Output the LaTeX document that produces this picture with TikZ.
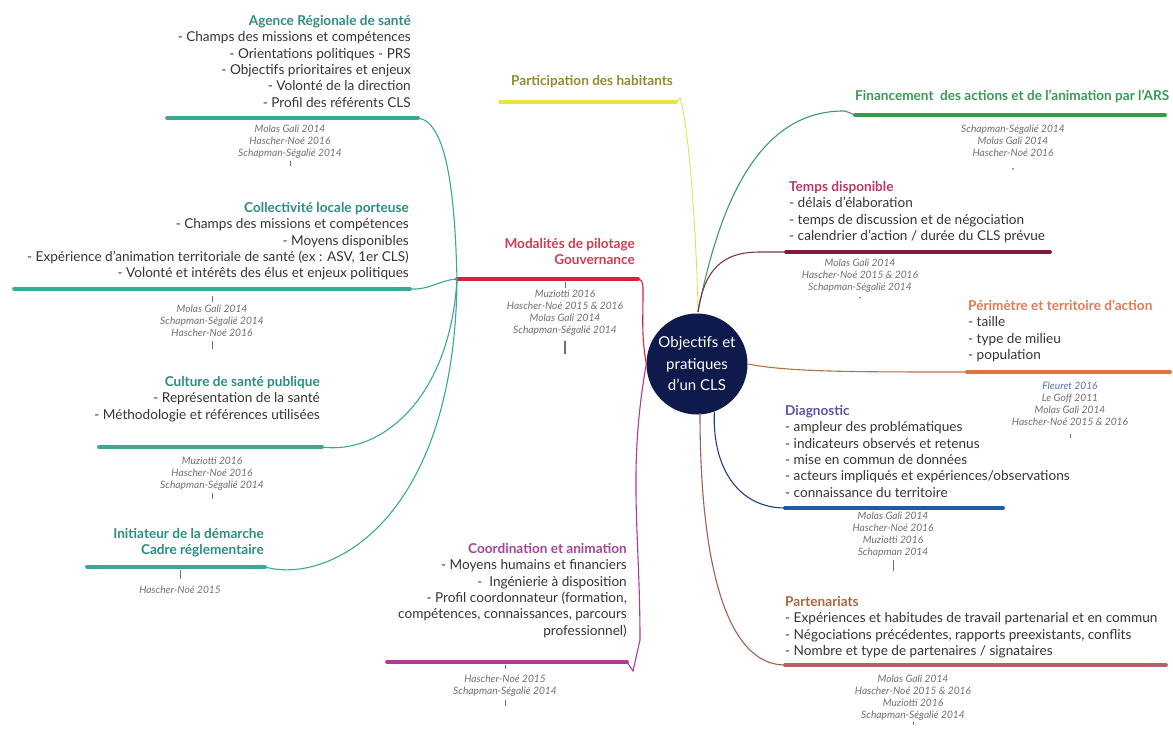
\documentclass[tikz,border=0pt]{standalone}
\usepackage{fontspec}
\setmainfont{Lato}
\definecolor{navy}{HTML}{0E1A4B}
\definecolor{bodytxt}{HTML}{353535}
\definecolor{citegray}{HTML}{707070}
\definecolor{tealB}{HTML}{3BA896}
\definecolor{tealT}{HTML}{2E8C80}
\definecolor{redB}{HTML}{D9203A}
\definecolor{redT}{HTML}{D43A52}
\definecolor{purB}{HTML}{B03A98}
\definecolor{purT}{HTML}{A5449C}
\definecolor{yelB}{HTML}{E9E53E}
\definecolor{yelT}{HTML}{8E8C2E}
\definecolor{yelL}{HTML}{E3DB4A}
\definecolor{grnB}{HTML}{2F9E4A}
\definecolor{grnT}{HTML}{3A9A55}
\definecolor{grnL}{HTML}{3B9A70}
\definecolor{tmpB}{HTML}{7E1A3E}
\definecolor{tmpT}{HTML}{B83A64}
\definecolor{tmpL}{HTML}{7A3A3A}
\definecolor{orB}{HTML}{E2733E}
\definecolor{orT}{HTML}{E07B55}
\definecolor{orL}{HTML}{B87040}
\definecolor{diaB}{HTML}{1F5CA8}
\definecolor{diaT}{HTML}{5A52A8}
\definecolor{diaL}{HTML}{1F3F80}
\definecolor{parB}{HTML}{B56262}
\definecolor{parT}{HTML}{A8683C}
\definecolor{parL}{HTML}{A06050}
\definecolor{fleur}{HTML}{5A70B0}
\newcommand{\brtitle}[2]{{\bfseries\color{#1}#2}}
\begin{document}
\begin{tikzpicture}[x=1pt,y=-1pt,
  body/.style={font=\fontsize{13.6}{16.3}\selectfont, text=bodytxt, inner sep=0pt},
  cite/.style={font=\fontsize{10.2}{12}\selectfont\itshape, text=citegray, align=center, inner sep=0pt},
  bar/.style={line width=3.8pt, line cap=round},
  link/.style={line width=1.1pt},
  tickmark/.style={draw=citegray, line width=0.9pt}]
\fill[white] (0,0) rectangle (1173,733);
\useasboundingbox (0,0) rectangle (1173,733);

% ---------- centre ----------
\node[circle, fill=navy, minimum size=101pt, inner sep=0pt, text=white,
  font=\fontsize{15}{21.5}\selectfont, align=center] (c) at (697,364)
  {Objectifs et\\pratiques\\d'un CLS};
\coordinate (ctop) at (698,312);
\coordinate (cbot) at (700,413);

% ---------- Participation ----------
\coordinate (parL0) at (500,102);
\coordinate (parR0) at (676,102);
\node[body, anchor=north, align=center] (parti) at (592,74)
  {\strut\brtitle{yelT}{Participation des habitants}};
\draw[bar, yelB] (parL0) -- (parR0);
\draw[link, yelL, line width=0.8pt] (parR0) -- (680,98) .. controls (690,130) and (697,250) .. (ctop);

% ---------- Modalites ----------
\coordinate (modL) at (457,279);
\coordinate (modR) at (638,279);
\node[body, anchor=north east, align=right] (mod) at (635,237)
  {\strut\brtitle{redT}{Modalités de pilotage}\\\brtitle{redT}{Gouvernance}};
\draw[bar, redB] (modL) -- (modR);
\draw[link, redB] (c.west) to[out=100,in=-90] (643,292) to[out=90,in=0] (modR);
\node[cite, anchor=north] (modC) at (565,289)
  {\strut Muziotti 2016\\Hascher-Noé 2015 \& 2016\\Molas Gali 2014\\Schapman-Ségalié 2014};
\draw[tickmark] (565,282) -- (565,288);
\draw[tickmark, line width=2pt] ([yshift=-5pt]modC.south) -- ++(0,13);

% ---------- ARS ----------
\coordinate (arsL) at (167,118);
\coordinate (arsR) at (418,118);
\node[body, anchor=north east, align=right] (ars) at (411,14)
  {\strut\brtitle{tealT}{Agence Régionale de santé}\\
   - Champs des missions et compétences\\
   - Orientations politiques - PRS\\
   - Objectifs prioritaires et enjeux\\
   - Volonté de la direction\\
   - Profil des référents CLS};
\draw[bar, tealB] (arsL) -- (arsR);
\node[cite, anchor=north] (arsC) at (290,124)
  {\strut Molas Gali 2014\\Hascher-Noé 2016\\Schapman-Ségalié 2014};
\draw[tickmark] ([yshift=-2pt]arsC.south) -- ++(0,5);
\draw[link, tealB] (arsR) .. controls (448,122) and (455,200) .. (modL);

% ---------- Collectivite ----------
\coordinate (colL) at (14,289);
\coordinate (colR) at (410,289);
\node[body, anchor=north east, align=right] (col) at (409,201)
  {\strut\brtitle{tealT}{Collectivité locale porteuse}\\
   - Champs des missions et compétences\\
   - Moyens disponibles\\
   - Expérience d'animation territoriale de santé (ex : ASV, 1er CLS)\\
   - Volonté et intérêts des élus et enjeux politiques};
\draw[bar, tealB] (colL) -- (colR);
\node[cite, anchor=north] (colC) at (212,304)
  {\strut Molas Gali 2014\\Schapman-Ségalié 2014\\Hascher-Noé 2016};
\draw[tickmark] (212,296) -- (212,302);
\draw[tickmark] ([yshift=-4pt]colC.south) -- ++(0,8);
\draw[link, tealB] (colR) .. controls (430,290) and (440,280) .. (modL);

% ---------- Culture ----------
\coordinate (culL) at (99,447);
\coordinate (culR) at (322,447);
\node[body, anchor=north east, align=right] (cul) at (320,375)
  {\strut\brtitle{tealT}{Culture de santé publique}\\
   - Représentation de la santé\\
   - Méthodologie et références utilisées};
\draw[bar, tealB] (culL) -- (culR);
\node[cite, anchor=north] (culC) at (212,456)
  {\strut Muziotti 2016\\Hascher-Noé 2016\\Schapman-Ségalié 2014};
\draw[tickmark] ([yshift=-2pt]culC.south) -- ++(0,6);
\draw[link, tealB] (culR) .. controls (380,455) and (450,400) .. (modL);

% ---------- Initiateur ----------
\coordinate (iniL) at (87,567);
\coordinate (iniR) at (265,567);
\node[body, anchor=north east, align=right] (ini) at (264,527)
  {\strut\brtitle{tealT}{Initiateur de la démarche}\\\brtitle{tealT}{Cadre réglementaire}};
\draw[bar, tealB] (iniL) -- (iniR);
\node[cite, anchor=north] (iniC) at (180,585)
  {\strut Hascher-Noé 2015};
\draw[tickmark] (180,570) -- (180,579);
\draw[link, tealB] (iniR) .. controls (330,585) and (455,520) .. (modL);

% ---------- Coordination ----------
\coordinate (cooL) at (387,662);
\coordinate (cooR) at (627,662);
\node[body, anchor=north east, align=right] (coo) at (627,542)
  {\strut\brtitle{purT}{Coordination et animation}\\
   - Moyens humains et financiers\\
   -\ \ Ingénierie à disposition\\
   - Profil coordonnateur (formation,\\
   compétences, connaissances, parcours\\
   professionnel)};
\draw[bar, purB] (cooL) -- (cooR);
\draw[link, purB] (c.west) to[out=-100,in=90] (640,640) -- (633,671) -- (cooR);
\node[cite, anchor=north] (cooC) at (505,674)
  {\strut Hascher-Noé 2015\\Schapman-Ségalié 2014};
\draw[tickmark] (505,665) -- (505,669);
\draw[tickmark] ([yshift=-3pt]cooC.south) -- ++(0,6);

% ---------- Financement ----------
\coordinate (finL) at (855,115);
\coordinate (finR) at (1165,115);
\node[body, anchor=north west, align=left] (fin) at (855,89)
  {\strut\brtitle{grnT}{Financement\ \ des actions et de l'animation par l'ARS}};
\draw[bar, grnB] (finL) -- (finR);
\draw[link, grnL] (ctop) .. controls (720,200) and (760,110) .. (845,111) -- (finL);
\node[cite, anchor=north] (finC) at (1013,124)
  {\strut Schapman-Ségalié 2014\\Molas Gali 2014\\Hascher-Noé 2016};
\fill[citegray] ([yshift=-12pt]finC.south) circle (0.9pt);

% ---------- Temps ----------
\coordinate (tmpL) at (786,252);
\coordinate (tmpR) at (1050,252);
\node[body, anchor=north west, align=left] (tmp) at (789,180)
  {\strut\brtitle{tmpT}{Temps disponible}\\
   - délais d'élaboration\\
   - temps de discussion et de négociation\\
   - calendrier d'action / durée du CLS prévue};
\draw[bar, tmpB] (tmpL) -- (tmpR);
\draw[link, tmpL] (ctop) .. controls (705,262) and (730,252) .. (760,252) -- (tmpL);
\node[cite, anchor=north] (tmpC) at (860,258)
  {\strut Molas Gali 2014\\Hascher-Noé 2015 \& 2016\\Schapman-Ségalié 2014};
\fill[citegray] ([yshift=-5pt]tmpC.south) circle (0.9pt);

% ---------- Perimetre ----------
\coordinate (perL) at (967,372);
\coordinate (perR) at (1170,372);
\node[body, anchor=north west, align=left] (per) at (968,299)
  {\strut\brtitle{orT}{Périmètre et territoire d'action}\\
   - taille\\
   - type de milieu\\
   - population};
\draw[bar, orB] (perL) -- (perR);
\draw[link, orL] (c.east) .. controls (790,372) and (850,372) .. (perL);
\node[cite, anchor=north] (perC) at (1070,381)
  {\strut{\color{fleur}Fleuret 2016}\\Le Goff 2011\\Molas Gali 2014\\Hascher-Noé 2015 \& 2016};
\draw[tickmark] ([yshift=-8pt]perC.south) -- ++(0,4);

% ---------- Diagnostic ----------
\coordinate (diaL) at (785,508);
\coordinate (diaR) at (1003,508);
\node[body, anchor=north west, align=left] (dia) at (785,404)
  {\strut\brtitle{diaT}{Diagnostic}\\
   - ampleur des problématiques\\
   - indicateurs observés et retenus\\
   - mise en commun de données\\
   - acteurs impliqués et expériences/observations\\
   - connaissance du territoire};
\draw[bar, diaB] (diaL) -- (diaR);
\draw[link, diaL] (c.-70) .. controls (712,470) and (740,508) .. (diaL);
\node[cite, anchor=north] (diaC) at (893,511)
  {\strut Molas Gali 2014\\Hascher-Noé 2016\\Muziotti 2016\\Schapman 2014};
\draw[tickmark] ([yshift=-2pt]diaC.south) -- ++(0,11);

% ---------- Partenariats ----------
\coordinate (ptnL) at (785,665);
\coordinate (ptnR) at (1166,665);
\node[body, anchor=north west, align=left] (ptn) at (785,595)
  {\strut\brtitle{parT}{Partenariats}\\
   - Expériences et habitudes de travail partenarial et en commun\\
   - Négociations précédentes, rapports preexistants, conflits\\
   - Nombre et type de partenaires / signataires};
\draw[bar, parB] (ptnL) -- (ptnR);
\draw[link, parL] (cbot) .. controls (700,560) and (725,665) .. (ptnL);
\node[cite, anchor=north] (ptnC) at (913,674)
  {\strut Molas Gali 2014\\Hascher-Noé 2015 \& 2016\\Muziotti 2016\\Schapman-Ségalié 2014};
\draw[tickmark] ([yshift=-1pt]ptnC.south) -- ++(0,3);
\end{tikzpicture}
\end{document}
